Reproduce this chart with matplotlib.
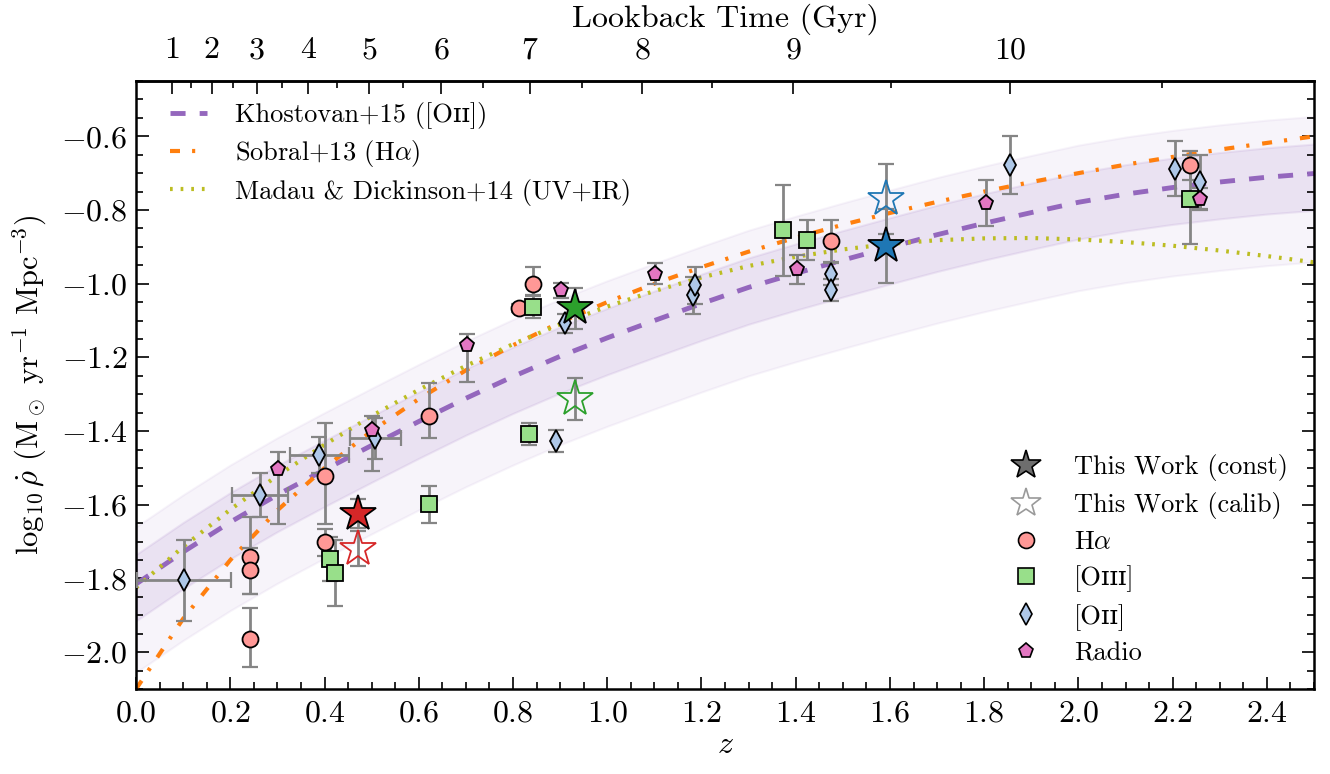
import numpy as np
import matplotlib
matplotlib.use("Agg")
import matplotlib.pyplot as plt
from matplotlib.lines import Line2D
from matplotlib.ticker import MultipleLocator, FixedLocator, FuncFormatter

plt.rcParams.update({
    "font.family": ["cmr10", "DejaVu Serif"],
    "mathtext.fontset": "cm",
    "axes.formatter.use_mathtext": True,
    "axes.unicode_minus": True,
})

# ---------------------------------------------------------------- model curves
z_grid = [0.0, 0.1, 0.2, 0.3, 0.4, 0.5, 0.6, 0.7, 0.8, 0.9, 1.0, 1.1, 1.2,
          1.3, 1.4, 1.5, 1.6, 1.7, 1.8, 1.9, 2.0, 2.1, 2.2, 2.3, 2.4, 2.5]

khostovan15 = [-1.815, -1.728, -1.647, -1.573, -1.505, -1.439, -1.374, -1.311,
               -1.252, -1.197, -1.147, -1.100, -1.054, -1.010, -0.972, -0.936,
               -0.901, -0.867, -0.836, -0.807, -0.779, -0.757, -0.739, -0.724,
               -0.711, -0.701]
# band half-widths (dex) around the Khostovan+15 fit
k15_inner_up, k15_inner_dn = 0.08, 0.10
k15_outer_up, k15_outer_dn = 0.155, 0.24

sobral13 = [-2.100, -1.909, -1.750, -1.615, -1.500, -1.400, -1.313, -1.235,
            -1.167, -1.105, -1.050, -1.000, -0.955, -0.913, -0.875, -0.840,
            -0.808, -0.778, -0.750, -0.724, -0.700, -0.677, -0.656, -0.636,
            -0.618, -0.600]

madau14 = [-1.825, -1.714, -1.613, -1.521, -1.437, -1.359, -1.288, -1.223,
           -1.164, -1.110, -1.062, -1.020, -0.983, -0.952, -0.927, -0.907,
           -0.892, -0.882, -0.877, -0.876, -0.880, -0.887, -0.897, -0.910,
           -0.925, -0.942]

# ---------------------------------------------------------------- measurements
ha_z = [0.242, 0.242, 0.242, 0.401, 0.401, 0.622, 0.812, 0.842, 1.474, 2.236]
ha_v = [-1.741, -1.776, -1.963, -1.522, -1.700, -1.360, -1.066, -1.000, -0.884, -0.679]
ha_elo = [0.100, 0.065, 0.077, 0.130, 0.040, 0.060, 0.010, 0.030, 0.056, 0.040]
ha_ehi = [0.108, 0.060, 0.082, 0.143, 0.035, 0.090, 0.010, 0.045, 0.056, 0.040]

oiii_z = [0.412, 0.423, 0.622, 0.833, 0.842, 1.372, 1.424, 2.236]
oiii_v = [-1.748, -1.786, -1.599, -1.407, -1.063, -0.855, -0.882, -0.771]
oiii_e = [0.060, 0.090, 0.050, 0.030, 0.030, 0.124, 0.055, 0.120]

oii_z = [0.102, 0.263, 0.389, 0.508, 0.892, 0.911, 1.182, 1.187, 1.474, 1.474,
         1.854, 2.205, 2.257]
oii_v = [-1.805, -1.574, -1.465, -1.420, -1.427, -1.108, -1.031, -1.004, -0.973,
         -1.018, -0.677, -0.688, -0.723]
oii_ye = [0.110, 0.060, 0.050, 0.055, 0.030, 0.025, 0.050, 0.050, 0.030, 0.030,
          0.079, 0.075, 0.073]
oii_xe = [0.100, 0.060, 0.062, 0.055, 0.0, 0.0, 0.0, 0.0, 0.0, 0.0, 0.0, 0.0, 0.0]

radio_z = [0.302, 0.501, 0.702, 0.902, 1.102, 1.403, 1.803, 2.257]
radio_v = [-1.503, -1.398, -1.167, -1.018, -0.973, -0.961, -0.781, -0.771]
radio_elo = [0.148, 0.110, 0.100, 0.020, 0.028, 0.040, 0.063, 0.030]
radio_ehi = [0.047, 0.040, 0.030, 0.020, 0.028, 0.040, 0.063, 0.030]

work_z = [0.472, 0.931, 1.592]
work_const = [-1.624, -1.067, -0.898]
work_const_e = [0.040, 0.055, 0.100]
work_calib = [-1.719, -1.314, -0.769]
work_calib_e = [0.047, 0.057, 0.095]
work_colors = ["#d62728", "#2ca02c", "#1f77b4"]

# ---------------------------------------------------------------- figure
fig = plt.figure(figsize=(13.3, 7.74), dpi=100)
ax = fig.add_axes([0.1023, 0.1098, 0.8857, 0.7855])

zg = np.asarray(z_grid)
kc = np.asarray(khostovan15)
purple = "#9467bd"
ax.fill_between(zg, kc - k15_outer_dn, kc + k15_outer_up, facecolor=purple,
                edgecolor=purple, alpha=0.07, lw=1.5, zorder=1)
ax.fill_between(zg, kc - k15_inner_dn, kc + k15_inner_up, facecolor=purple,
                edgecolor=purple, alpha=0.12, lw=1.5, zorder=1)

l_k, = ax.plot(zg, kc, color=purple, lw=3.5, dashes=(3.1, 2.9), zorder=2,
               label="Khostovan+15 ([O\u026a\u026a])")
l_s, = ax.plot(zg, sobral13, color="#ff7f0e", lw=3.0,
               dashes=(2.4, 2.9, 0.75, 3.1), zorder=2,
               label=r"Sobral+13 (H$\alpha$)")
l_m, = ax.plot(zg, madau14, color="#bcbd22", lw=3.0, dashes=(0.65, 1.9),
               zorder=2, label="Madau & Dickinson+14 (UV+IR)")

ekw = dict(fmt="none", ecolor="#858585", elinewidth=2.0, capsize=6,
           capthick=1.6, zorder=3)
ax.errorbar(ha_z, ha_v, yerr=[ha_elo, ha_ehi], **ekw)
ax.errorbar(oiii_z, oiii_v, yerr=oiii_e, **ekw)
ax.errorbar(oii_z, oii_v, yerr=oii_ye, xerr=oii_xe, **ekw)
ax.errorbar(radio_z, radio_v, yerr=[radio_elo, radio_ehi], **ekw)
ax.errorbar(work_z, work_const, yerr=work_const_e, **ekw)
ax.errorbar(work_z, work_calib, yerr=work_calib_e, **ekw)

mkw = dict(ls="none", mec="black", mew=1.3, zorder=4)
ax.plot(ha_z, ha_v, marker="o", ms=11.5, mfc="#ff9896", **mkw)
ax.plot(oiii_z, oiii_v, marker="s", ms=11.5, mfc="#98df8a", **mkw)
ax.plot(oii_z, oii_v, marker="d", ms=11, mfc="#aec7e8", **mkw)
ax.plot(radio_z, radio_v, marker="p", ms=11, mfc="#e377c2", **mkw)

for zz_, vc, vk, col in zip(work_z, work_const, work_calib, work_colors):
    ax.plot(zz_, vk, marker="*", ms=27, mfc="none", mec=col, mew=1.3,
            ls="none", zorder=5)
    ax.plot(zz_, vc, marker="*", ms=27, mfc=col, mec="black", mew=1.3,
            ls="none", zorder=5)

# ---------------------------------------------------------------- axes styling
ax.set_xlim(0, 2.5)
ax.set_ylim(-2.1, -0.45)
ax.xaxis.set_major_locator(MultipleLocator(0.2))
ax.xaxis.set_minor_locator(MultipleLocator(0.05))
ax.yaxis.set_major_locator(MultipleLocator(0.2))
ax.yaxis.set_minor_locator(MultipleLocator(0.05))
fmt1 = FuncFormatter(lambda v, p: r"$%.1f$" % v)
ax.xaxis.set_major_formatter(fmt1)
ax.yaxis.set_major_formatter(fmt1)
for s in ax.spines.values():
    s.set_linewidth(1.8)
ax.tick_params(which="both", direction="in", top=False, right=True,
               width=1.2, labelsize=23)
ax.tick_params(which="major", length=9)
ax.tick_params(which="minor", length=5)
ax.tick_params(axis="x", which="major", pad=8)
ax.tick_params(axis="y", which="major", pad=6)

ax.set_xlabel(r"$z$", fontsize=23, labelpad=3)
ax.set_ylabel(r"$\log_{10}\dot{\rho}$ (M$_\odot$ yr$^{-1}$ Mpc$^{-3}$)",
              fontsize=22, labelpad=9)

# lookback time for a flat LCDM cosmology (H0 = 70, Om = 0.3)
H0, Om, OL = 70.0, 0.3, 0.7
zz = np.linspace(0.0, 20.0, 20001)
integrand = 1.0 / ((1.0 + zz) * np.sqrt(Om * (1.0 + zz) ** 3 + OL))
tl = (977.8 / H0) * np.concatenate(
    [[0.0], np.cumsum(0.5 * (integrand[1:] + integrand[:-1]) * np.diff(zz))])


def z_to_t(z):
    return np.interp(z, zz, tl)


def t_to_z(t):
    return np.interp(t, tl, zz)


secax = ax.secondary_xaxis("top", functions=(z_to_t, t_to_z))
secax.xaxis.set_major_locator(FixedLocator(list(range(1, 11))))
secax.xaxis.set_minor_locator(FixedLocator(list(np.arange(1.5, 11.0, 1.0))))
secax.xaxis.set_major_formatter(FuncFormatter(lambda v, p: r"$%d$" % round(v)))
secax.tick_params(which="both", direction="in", width=1.2, labelsize=23)
secax.tick_params(which="major", length=9, pad=12)
secax.tick_params(which="minor", length=5)
secax.spines["top"].set_linewidth(1.8)
secax.set_xlabel("Lookback Time (Gyr)", fontsize=23, labelpad=7)

# ---------------------------------------------------------------- legends
leg1 = ax.legend(handles=[l_k, l_s, l_m], loc="upper left",
                 bbox_to_anchor=(0.011, 1.0), frameon=False,
                 fontsize=19, handlelength=1.4, handletextpad=1.05,
                 labelspacing=0.35, borderaxespad=0.4)
ax.add_artist(leg1)

pkw = dict(ls="none", mec="black", mew=1.2)
proxies = [
    Line2D([], [], marker="*", ms=22, mfc="#6e6e6e", **pkw),
    Line2D([], [], marker="*", ms=22, mfc="none", mec="#9a9a9a", mew=1.2, ls="none"),
    Line2D([], [], marker="o", ms=11.5, mfc="#ff9896", **pkw),
    Line2D([], [], marker="s", ms=11.5, mfc="#98df8a", **pkw),
    Line2D([], [], marker="d", ms=11, mfc="#aec7e8", **pkw),
    Line2D([], [], marker="p", ms=11, mfc="#e377c2", **pkw),
]
labels = ["This Work (const)", "This Work (calib)", r"H$\alpha$",
          "[O\u026a\u026a\u026a]", "[O\u026a\u026a]", "Radio"]
ax.legend(proxies, labels, loc="lower right", bbox_to_anchor=(1.0, -0.005),
          frameon=False, fontsize=19, labelspacing=0.43, borderaxespad=0.6)

fig.savefig("out.png", dpi=100)
